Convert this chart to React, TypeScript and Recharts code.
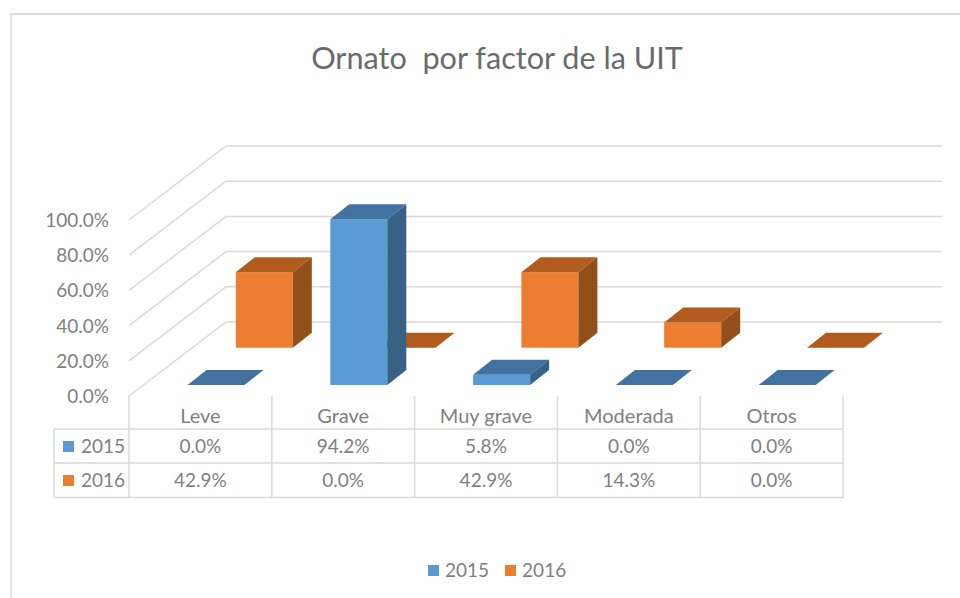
import { BarChart, Bar, XAxis, YAxis, CartesianGrid, Legend } from 'recharts';

const FONT = 'Lato, "Open Sans", sans-serif';
const TEXT = '#7f7f7f';
const LINE = '#d9d9d9';

const CATEGORIES = ['Leve', 'Grave', 'Muy grave', 'Moderada', 'Otros'];
const VALUES_2015 = [0.0, 94.2, 5.8, 0.0, 0.0];
const VALUES_2016 = [42.9, 0.0, 42.9, 14.3, 0.0];
const Y_TICKS = [0, 20, 40, 60, 80, 100];

const data = CATEGORIES.map((name, i) => ({
  name,
  y2015: VALUES_2015[i],
  y2016: VALUES_2016[i],
}));

const BAR_WIDTH = 57;
const COL_WIDTH = 142.8;
// how far the back wall sits from the front of the floor
const WALL_DX = 97;
const WALL_DY = 74;
const WALL_RIGHT = 942;
// thickness of a bar, going into the picture
const BOX_DX = 19;
const BOX_DY = 15;

const fmt = (v: number) => `${v.toFixed(1)}%`;

// oblique box; the front face comes from the bar rectangle, moved back by dx/dy
const box3d = (dx: number, dy: number, front: string, top: string, side: string) => (props: any) => {
  const { x, y, width, height } = props;
  const l = x + dx;
  const r = l + width;
  const t = y - dy;
  const b = t + height;
  return (
    <g>
      {height > 0 && <rect x={l} y={t} width={width} height={height} fill={front} />}
      <polygon
        points={`${l},${t} ${r},${t} ${r + BOX_DX},${t - BOX_DY} ${l + BOX_DX},${t - BOX_DY}`}
        fill={top}
      />
      {height > 0 && (
        <polygon
          points={`${r},${t} ${r + BOX_DX},${t - BOX_DY} ${r + BOX_DX},${b - BOX_DY} ${r},${b}`}
          fill={side}
        />
      )}
    </g>
  );
};

const shape2015 = box3d(15.5, 11, '#5b9bd5', '#4273a0', '#376185');
const shape2016 = box3d(63.8, 48.3, '#ed7d31', '#b25b1f', '#934f19');

const wallLine = (props: any) => {
  const { x1, y1, key } = props;
  const backY = y1 - WALL_DY;
  return (
    <polyline
      key={key}
      points={`${x1},${y1} ${x1 + WALL_DX},${backY} ${WALL_RIGHT},${backY}`}
      fill="none"
      stroke={LINE}
      strokeWidth={1.5}
    />
  );
};

const YTick = ({ x, y, payload }: any) => (
  <text x={x} y={y + 7} textAnchor="end" fontSize={19} fontFamily={FONT} fill={TEXT}>
    {fmt(payload.value)}
  </text>
);

const cellText = (x: number, y: number, s: string, size = 19, anchor: any = 'middle') => (
  <text x={x} y={y} textAnchor={anchor} fontSize={size} fontFamily={FONT} fill={TEXT}>
    {s}
  </text>
);

// the x axis doubles as the data table under the plot
const TableTick = ({ x, y, payload, index }: any) => {
  const left = x - COL_WIDTH / 2;
  const right = x + COL_WIDTH / 2;
  const top = y;
  const row1 = top + 33;
  const row2 = top + 67;
  const row3 = top + 101.5;
  const stroke = { stroke: LINE, strokeWidth: 1.5 };
  return (
    <g>
      <line x1={right} y1={top} x2={right} y2={row3} {...stroke} />
      <line x1={left} y1={row1} x2={right} y2={row1} {...stroke} />
      <line x1={left} y1={row2} x2={right} y2={row2} {...stroke} />
      <line x1={left} y1={row3} x2={right} y2={row3} {...stroke} />
      {cellText(x, top + 27, payload.value, 20)}
      {cellText(x, top + 57, fmt(VALUES_2015[index]))}
      {cellText(x, top + 91, fmt(VALUES_2016[index]))}
      {index === 0 && (
        <g>
          <line x1={left} y1={top - 1} x2={left} y2={row3} {...stroke} />
          <line x1={54} y1={row1} x2={left} y2={row1} {...stroke} />
          <line x1={54} y1={row2} x2={left} y2={row2} {...stroke} />
          <line x1={54} y1={row3} x2={left} y2={row3} {...stroke} />
          <line x1={54} y1={row1} x2={54} y2={row3} {...stroke} />
          <rect x={63} y={top + 45} width={11} height={11} fill="#5b9bd5" />
          <rect x={63} y={top + 79} width={11} height={11} fill="#ed7d31" />
          {cellText(81, top + 57, '2015', 19, 'start')}
          {cellText(81, top + 91, '2016', 19, 'start')}
        </g>
      )}
    </g>
  );
};

const LegendRow = ({ payload }: any) => (
  <div style={{ display: 'flex', fontFamily: FONT, fontSize: 19, color: TEXT, lineHeight: '24px' }}>
    {[...(payload || [])].sort((a: any, b: any) => String(a.value).localeCompare(String(b.value))).map((p: any) => (
      <div key={p.value} style={{ display: 'flex', alignItems: 'center', marginRight: 16 }}>
        <span style={{ width: 11, height: 11, background: p.color, marginRight: 6 }} />
        {p.value}
      </div>
    ))}
  </div>
);

export default function App() {
  return (
    <div style={{ position: 'absolute', left: 0, top: 0, width: 960, height: 598, background: '#fff', overflow: 'hidden' }}>
      <div style={{ position: 'absolute', left: 10, top: 13, width: 960, height: 600, borderLeft: '2px solid #e2e2e2', borderTop: '2px solid #dcdcdc' }} />
      <div style={{ position: 'absolute', left: 0, top: 38, width: 994, textAlign: 'center', fontFamily: FONT, fontSize: 30.6, color: '#6a6a6a', whiteSpace: 'pre', lineHeight: '40px' }}>
        {'Ornato  por factor de la UIT'}
      </div>
      <BarChart
        width={960}
        height={598}
        data={data}
        barSize={BAR_WIDTH}
        barGap={-BAR_WIDTH}
        margin={{ top: 220, right: 117, bottom: 78, left: 49 }}
        style={{ position: 'absolute', left: 0, top: 0 }}
      >
        <CartesianGrid vertical={false} horizontal={wallLine} />
        <XAxis dataKey="name" height={100} axisLine={false} tickLine={false} tickSize={0} tickMargin={0} interval={0} tick={TableTick} />
        <YAxis width={80} domain={[0, 100]} ticks={Y_TICKS} axisLine={false} tickLine={false} tickSize={0} tickMargin={20} tick={YTick} />
        <Legend content={LegendRow} wrapperStyle={{ left: 428, top: 558, width: 200, bottom: 'auto', right: 'auto' }} />
        <Bar dataKey="y2016" name="2016" fill="#ed7d31" shape={shape2016} isAnimationActive={false} />
        <Bar dataKey="y2015" name="2015" fill="#5b9bd5" shape={shape2015} isAnimationActive={false} />
      </BarChart>
    </div>
  );
}
